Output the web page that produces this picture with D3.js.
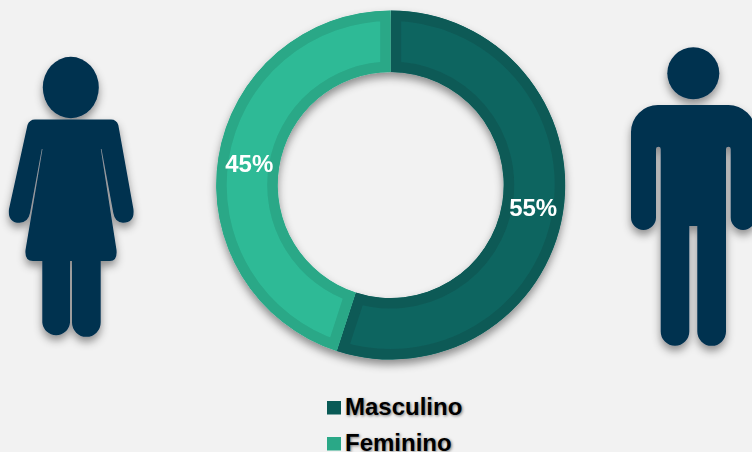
<!DOCTYPE html>
<html>
<head>
<meta charset="utf-8">
<script src="https://cdn.jsdelivr.net/npm/d3@7"></script>
<style>
html, body { margin: 0; padding: 0; background: #f2f2f2; overflow: hidden; }
svg { display: block; font-family: "Liberation Sans", Arial, sans-serif; font-weight: bold; }
</style>
</head>
<body>
<div id="chart"></div>
<script>
var categories = ["Masculino", "Feminino"];
var values = [55, 45];
var fillColors = ["#0b6560", "#2fba96"];
var borderColors = ["#095a56", "#2aa887"];

// pictograms, not data
var womanHead = { cx: 70.8, cy: 87.5, rx: 28, ry: 30.7 };
var womanBody = "M35 119.5 L111 119.5 Q116.5 119.5 118.3 125 L133.4 209 Q135 222.7 123 222.7 Q115 222.7 113.3 213 L101.5 149 L100.8 149 L116.5 250 Q117.5 261 110 261 L100.7 261 L100.7 322.5 A14.3 14.3 0 0 1 72 322.5 L72 261 L70 261 L70 322.5 A13.9 13.9 0 0 1 42.3 322.5 L42.3 261 L33 261 Q24.5 261 25.5 250 L42.5 149 L41.8 149 L30 213 Q28 222.7 19.5 222.7 Q7.5 222.7 9 209 L27.5 125 Q29.5 119.5 35 119.5 Z";
var manHead = { cx: 693.3, cy: 73.3, rx: 26, ry: 26 };
var manBody = "M658 105 L728 105 A27 27 0 0 1 755.5 132 L755.5 217.5 A12.4 12.4 0 0 1 730.7 217.5 L730.7 149 Q730.7 146.7 728.5 146.7 Q726 146.7 726 149 L726 331.5 A14.3 14.3 0 0 1 697.3 331.5 L697.3 226 L689.3 226 L689.3 331.5 A14.3 14.3 0 0 1 660.7 331.5 L660.7 149 Q660.7 146.7 658.5 146.7 Q656 146.7 656 149 L656 217.5 A12.5 12.5 0 0 1 631 217.5 L631 132 A27 27 0 0 1 658 105 Z";

var width = 752;
var height = 452;
var cx = 390.7;
var cy = 185;
var outerR = 174.5;
var innerR = 113;
var border = 10.5;

var svg = d3.select("#chart")
    .append("svg")
    .attr("width", width)
    .attr("height", height);

var defs = svg.append("defs");

var shadow = defs.append("filter")
    .attr("id", "shadow")
    .attr("x", "-20%").attr("y", "-20%")
    .attr("width", "140%").attr("height", "140%");
shadow.append("feDropShadow")
    .attr("dx", 0)
    .attr("dy", 5)
    .attr("stdDeviation", 4)
    .attr("flood-color", "#000")
    .attr("flood-opacity", 0.42);

var fillColor = d3.scaleOrdinal().domain(categories).range(fillColors);
var borderColor = d3.scaleOrdinal().domain(categories).range(borderColors);

var pie = d3.pie()
    .sort(null)
    .value(function (d, i) { return values[i]; });

var arc = d3.arc()
    .innerRadius(innerR)
    .outerRadius(outerR);

var slices = pie(categories);

// slices, the border sits on the inside so the stroke gets clipped to the slice
var ring = svg.append("g")
    .attr("filter", "url(#shadow)")
    .append("g")
    .attr("transform", "translate(" + cx + "," + cy + ")");

slices.forEach(function (d, i) {
    defs.append("clipPath")
        .attr("id", "slice" + i)
        .append("path")
        .attr("d", arc(d));
});

ring.selectAll("path")
    .data(slices)
    .enter()
    .append("path")
    .attr("d", arc)
    .attr("fill", function (d) { return fillColor(d.data); })
    .attr("stroke", function (d) { return borderColor(d.data); })
    .attr("stroke-width", border * 2)
    .attr("clip-path", function (d, i) { return "url(#slice" + i + ")"; });

ring.selectAll("text")
    .data(slices)
    .enter()
    .append("text")
    .attr("x", function (d) { return arc.centroid(d)[0] + 0.5; })
    .attr("y", function (d) { return arc.centroid(d)[1]; })
    .attr("dy", 9)
    .attr("text-anchor", "middle")
    .attr("fill", "#fff")
    .style("font-size", "24px")
    .text(function (d) { return d.value + "%"; });

// figures
var navy = "#03304f";
var woman = svg.append("g").attr("filter", "url(#shadow)").attr("fill", navy);
woman.append("ellipse")
    .attr("cx", womanHead.cx).attr("cy", womanHead.cy)
    .attr("rx", womanHead.rx).attr("ry", womanHead.ry);
woman.append("path").attr("d", womanBody);

var man = svg.append("g").attr("filter", "url(#shadow)").attr("fill", navy);
man.append("ellipse")
    .attr("cx", manHead.cx).attr("cy", manHead.cy)
    .attr("rx", manHead.rx).attr("ry", manHead.ry);
man.append("path").attr("d", manBody);

// legend
var legendY = d3.scalePoint()
    .domain(categories)
    .range([415, 451]);

var legend = svg.selectAll(".legend")
    .data(categories)
    .enter()
    .append("g")
    .attr("class", "legend")
    .attr("transform", function (d) { return "translate(327," + legendY(d) + ")"; });

legend.append("rect")
    .attr("y", -14)
    .attr("width", 14)
    .attr("height", 13.5)
    .attr("fill", function (d) { return borderColor(d); });

legend.append("text")
    .attr("x", 18)
    .attr("fill", "#000")
    .style("font-size", "24px")
    .style("text-shadow", "1px 1px 3px rgba(0,0,0,0.5)")
    .text(function (d) { return d; });
</script>
</body>
</html>
